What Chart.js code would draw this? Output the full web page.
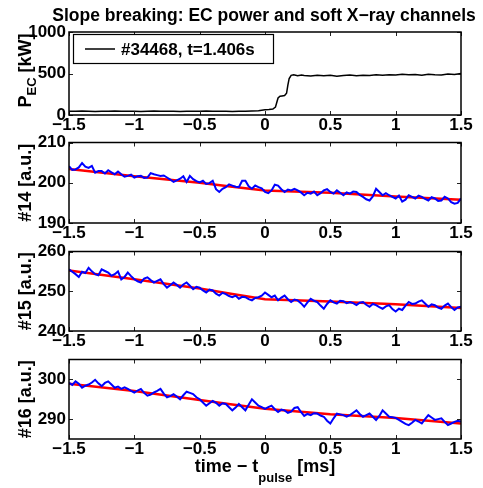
<!DOCTYPE html>
<html><head><meta charset="utf-8">
<script src="https://cdn.jsdelivr.net/npm/chart.js@4.4.1/dist/chart.umd.min.js"></script>
<style>
html,body{margin:0;padding:0;background:#fff;}
body{width:483px;height:488px;position:relative;overflow:hidden;}
canvas{position:absolute;left:0;}
</style></head><body>
<canvas id="c1"></canvas><canvas id="c2"></canvas><canvas id="c3"></canvas><canvas id="c4"></canvas>
<script>
// ---------------- DATA ----------------
const chartTitle = 'Slope breaking: EC power and soft X\u2212ray channels';
const legendLabel = '#34468, t=1.406s';
const xTickVals = [-1.5, -1, -0.5, 0, 0.5, 1, 1.5];

const yTicksEC = [0, 500, 1000];
const yTicks14 = [190, 200, 210];
const yTicks15 = [240, 250, 260];
const yTicks16 = [290, 300];

const tEC = [-1.5,-1.45,-1.4,-1.35,-1.3,-1.25,-1.2,-1.15,-1.1,-1.05,-1.0,-0.95,-0.9,-0.85,-0.8,-0.75,-0.7,-0.65,-0.6,-0.55,-0.5,-0.45,-0.4,-0.35,-0.3,-0.25,-0.2,-0.15,-0.1,-0.05,
  0,0.03,0.06,0.08,0.09,0.1,0.115,0.13,0.15,0.165,0.175,0.185,0.2,0.22,0.25,0.28,0.3,0.35,0.4,0.45,0.5,0.55,0.6,0.65,0.7,0.75,0.8,0.85,0.9,0.95,1.0,1.05,1.1,1.15,1.2,1.25,1.3,1.35,1.4,1.45,1.5];
const pEC = [46,44,47,45,43,46,44,47,45,44,46,43,45,47,44,46,45,43,46,44,45,47,44,46,45,43,46,44,47,50,
  62,66,72,95,150,205,226,230,235,262,360,440,478,486,474,482,476,470,480,472,478,468,476,482,474,480,476,484,478,486,482,490,484,488,480,492,486,482,494,488,500];

const tFit = [-1.5, -1, -0.5, -0.25, 0, 0.5, 1, 1.5];
const fit14 = [203.4, 201.6, 200.0, 199.0, 198.1, 197.5, 196.6, 195.8];
const fit15 = [255.2, 253.0, 250.7, 249.3, 248.0, 247.4, 246.7, 245.8];
const fit16 = [298.9, 297.1, 294.8, 293.7, 292.6, 291.2, 290.3, 288.9];

const sxr14 = [204.1,203.2,203.3,203.8,204.9,204.0,203.7,204.2,202.5,202.9,202.9,202.3,203.1,202.6,202.1,202.8,202.1,201.5,201.7,202.0,
  201.3,201.6,201.7,201.2,201.3,202.4,202.1,201.9,201.7,201.8,201.3,200.8,200.2,200.6,201.0,201.6,200.2,201.7,200.9,200.4,
  200.1,200.5,199.7,199.9,200.5,198.4,197.7,198.5,198.9,199.6,199.3,199.0,198.9,200.5,200.5,199.1,198.5,199.3,198.9,198.6,
  197.7,197.4,198.1,199.5,199.3,198.4,197.7,198.3,198.1,198.5,198.1,197.6,196.9,197.5,197.3,197.8,196.9,197.4,198.1,198.4,
  197.7,197.3,198.1,197.5,196.9,197.6,197.3,197.8,197.7,197.0,196.5,195.9,195.6,196.6,198.5,197.7,196.9,197.4,196.9,196.5,
  196.1,196.8,195.3,195.8,196.9,196.5,196.1,196.8,196.5,196.0,195.6,196.4,196.1,195.5,195.6,196.5,196.1,195.2,194.8,195.0,196.1];
const sxr15 = [255.5,254.9,254.3,253.6,254.9,254.6,255.9,255.0,254.3,254.0,255.5,255.1,254.7,253.9,254.3,255.0,253.0,253.6,254.7,253.8,
  253.0,252.5,252.2,253.2,253.5,252.8,252.2,252.6,253.0,251.8,250.9,251.5,252.2,251.6,250.9,251.7,252.2,251.4,250.5,251.1,
  250.9,250.2,249.7,250.4,250.2,249.4,248.9,249.6,249.3,248.8,248.5,248.9,248.1,248.6,248.5,248.0,247.7,248.3,248.5,248.9,
  249.7,249.1,248.5,248.9,247.7,248.4,248.9,248.0,247.3,247.9,247.7,247.0,246.1,247.2,248.1,247.6,247.3,246.4,245.6,246.8,
  247.7,247.2,246.9,247.6,247.5,247.0,247.3,247.0,246.5,247.1,247.3,246.6,246.1,246.8,246.5,246.0,245.6,246.2,246.5,245.5,
  244.9,245.6,245.3,246.4,247.3,246.8,246.9,247.4,247.7,246.9,246.1,246.7,246.5,245.9,245.6,246.4,246.9,246.0,245.3,245.9,246.1];
const sxr16 = [299.1,298.6,299.5,298.9,297.9,298.4,298.7,299.2,299.9,299.0,298.3,299.1,299.5,298.7,297.9,298.2,297.6,298.0,297.6,297.1,
  296.7,297.2,297.6,296.6,295.9,296.2,296.7,297.1,297.6,296.4,295.5,295.8,296.3,295.7,295.0,296.0,296.9,296.6,296.3,295.5,
  295.0,294.2,293.4,294.0,294.6,294.1,293.4,294.0,293.8,293.0,292.2,292.9,293.8,293.0,292.2,293.6,295.0,294.2,293.4,293.0,
  292.6,293.0,293.4,292.5,291.8,292.4,292.2,291.6,291.9,292.8,293.0,291.8,290.8,291.3,291.0,291.5,291.4,290.9,290.6,289.6,
  288.9,290.2,291.4,291.2,291.0,290.6,291.0,291.6,292.2,291.3,290.6,291.0,291.4,290.6,289.8,290.8,292.2,291.4,290.6,290.5,
  290.3,289.8,289.3,288.8,288.5,289.1,289.8,289.4,288.9,290.0,291.0,290.4,289.8,290.0,290.2,289.3,288.5,288.9,289.3,289.6,289.4];
// sample times of the SXR traces (every 0.025 ms)
const tSXR = [];
for (let i = 0; i < sxr14.length; i++) tSXR.push(Math.round((-1.5 + i * 0.025) * 1000) / 1000);

// ---------------- RENDERING ----------------
const FONT = '"Liberation Sans", Arial, Helvetica, sans-serif';
const FS = 17;
const pts = (xs, ys) => xs.map((x, i) => ({x: x, y: ys[i]}));
const fmt = v => (v < 0 ? '\u2212' + Math.abs(v) : String(v));

const framePlugin = {
  id: 'frame',
  afterDatasetsDraw(chart, args, opts) {
    const {ctx, chartArea: a, scales: {x, y}} = chart;
    ctx.save();
    ctx.strokeStyle = '#222'; ctx.lineWidth = 1;
    ctx.beginPath();
    const L = 4;
    for (const v of xTickVals) {
      const px = Math.round(x.getPixelForValue(v)) + 0.5;
      ctx.moveTo(px, a.bottom); ctx.lineTo(px, a.bottom - L);
      ctx.moveTo(px, a.top); ctx.lineTo(px, a.top + L);
    }
    for (const t of y.ticks) {
      const py = Math.round(y.getPixelForValue(t.value)) + 0.5;
      ctx.moveTo(a.left, py); ctx.lineTo(a.left + L, py);
      ctx.moveTo(a.right, py); ctx.lineTo(a.right - L, py);
    }
    ctx.stroke();
    ctx.strokeStyle = '#000'; ctx.lineWidth = 1.5;
    ctx.strokeRect(a.left, a.top, a.right - a.left, a.bottom - a.top);
    ctx.restore();
  },
  afterDraw(chart, args, opts) {
    const {ctx, chartArea: a} = chart;
    ctx.save();
    ctx.fillStyle = '#000';
    // y title (rotated), with optional subscript
    const parts = opts.ytitle || [];
    const cy = (a.top + a.bottom) / 2 + (opts.ytitleShift || 0);
    ctx.translate(31, cy);
    ctx.rotate(-Math.PI / 2);
    let total = 0;
    for (const p of parts) { ctx.font = 'bold ' + p.size + 'px ' + FONT; total += ctx.measureText(p.text).width; }
    let xx = -total / 2;
    ctx.textBaseline = 'alphabetic'; ctx.textAlign = 'left';
    for (const p of parts) {
      ctx.font = 'bold ' + p.size + 'px ' + FONT;
      ctx.fillText(p.text, xx, p.dy || 0);
      xx += ctx.measureText(p.text).width;
    }
    ctx.restore();
    if (opts.extra) opts.extra(chart);
  }
};

const PANELS = [
  {id: 'c1', top: 32, bottom: 115, padTop: 32, xh: 26},
  {id: 'c2', top: 141, bottom: 223, padTop: 10, xh: 26},
  {id: 'c3', top: 250, bottom: 331, padTop: 10, xh: 26},
  {id: 'c4', top: 358, bottom: 439, padTop: 10, xh: 49}
];

function makeChart(k, datasets, ymin, ymax, yTicks, frameOpts) {
  const P = PANELS[k];
  const cv = document.getElementById(P.id);
  const h = P.padTop + (P.bottom - P.top) + P.xh;
  cv.width = 483; cv.height = h;
  cv.style.width = '483px'; cv.style.height = h + 'px';
  cv.style.top = (P.top - P.padTop) + 'px';
  const tickFont = {family: FONT, size: FS, weight: 'bold', lineHeight: 1};
  return new Chart(cv, {
    type: 'line',
    data: {datasets: datasets},
    options: {
      responsive: false, animation: false, devicePixelRatio: 1, events: [],
      layout: {padding: {top: P.padTop, right: 22, left: 0, bottom: 0}},
      plugins: {legend: {display: false}, tooltip: {enabled: false}, title: {display: false}, frame: frameOpts},
      elements: {point: {radius: 0}, line: {tension: 0}},
      scales: {
        x: {
          type: 'linear', min: -1.5, max: 1.5,
          afterBuildTicks: s => { s.ticks = xTickVals.map(v => ({value: v})); },
          afterFit: s => { s.height = P.xh; },
          grid: {display: false, drawTicks: false}, border: {display: false},
          ticks: {padding: 2, color: '#000', font: tickFont, maxRotation: 0, autoSkip: false, callback: v => fmt(v)}
        },
        y: {
          type: 'linear', min: ymin, max: ymax,
          afterBuildTicks: s => { s.ticks = yTicks.map(v => ({value: v})); },
          afterFit: s => { s.width = 69; },
          grid: {display: false, drawTicks: false}, border: {display: false},
          ticks: {padding: 3, color: '#000', font: tickFont, autoSkip: false, callback: v => fmt(v)}
        }
      }
    },
    plugins: [framePlugin]
  });
}

const blueDs = d => ({data: d, borderColor: '#0000ff', borderWidth: 2, fill: false});
const redDs = d => ({data: d, borderColor: '#ff0000', borderWidth: 2.5, fill: false});

// Panel 1: EC power
makeChart(0, [{data: pts(tEC, pEC), borderColor: '#000', borderWidth: 1.5, fill: false}], 0, 1000, yTicksEC, {
  ytitle: [{text: 'P', size: 18}, {text: 'EC', size: 13, dy: 5}, {text: ' [kW]', size: 18}],
  ytitleShift: -3,
  extra: chart => {
    const ctx = chart.ctx;
    ctx.save();
    // chart title
    ctx.fillStyle = '#000';
    ctx.font = 'bold 17.5px ' + FONT;
    ctx.textAlign = 'center'; ctx.textBaseline = 'alphabetic';
    ctx.fillText(chartTitle, 264, 21);
    // legend box
    ctx.fillStyle = '#fff'; ctx.fillRect(73.5, 34.5, 200, 29);
    ctx.strokeStyle = '#000'; ctx.lineWidth = 1.2; ctx.strokeRect(73.5, 34.5, 200, 29);
    ctx.beginPath(); ctx.lineWidth = 1.5; ctx.moveTo(85, 49); ctx.lineTo(115, 49); ctx.stroke();
    ctx.fillStyle = '#000'; ctx.font = 'bold 17px ' + FONT; ctx.textAlign = 'left';
    ctx.fillText(legendLabel, 121, 55);
    ctx.restore();
  }
});

makeChart(1, [blueDs(pts(tSXR, sxr14)), redDs(pts(tFit, fit14))], 190, 210, yTicks14, {
  ytitle: [{text: '#14 [a.u.]', size: 18}]
});
makeChart(2, [blueDs(pts(tSXR, sxr15)), redDs(pts(tFit, fit15))], 240, 260, yTicks15, {
  ytitle: [{text: '#15 [a.u.]', size: 18}]
});
makeChart(3, [blueDs(pts(tSXR, sxr16)), redDs(pts(tFit, fit16))], 285, 305, yTicks16, {
  ytitle: [{text: '#16 [a.u.]', size: 18}],
  extra: chart => {
    const ctx = chart.ctx;
    const a = chart.chartArea;
    ctx.save();
    ctx.fillStyle = '#000'; ctx.textBaseline = 'alphabetic'; ctx.textAlign = 'left';
    const parts = [{text: 'time \u2212 t', size: 18, dy: 0}, {text: 'pulse', size: 13, dy: 10}, {text: ' [ms]', size: 18, dy: 0}];
    let total = 0;
    for (const p of parts) { ctx.font = 'bold ' + p.size + 'px ' + FONT; total += ctx.measureText(p.text).width; }
    let xx = (a.left + a.right) / 2 - total / 2;
    const base = 472 - 348;
    for (const p of parts) {
      ctx.font = 'bold ' + p.size + 'px ' + FONT;
      ctx.fillText(p.text, xx, base + p.dy);
      xx += ctx.measureText(p.text).width;
    }
    ctx.restore();
  }
});
</script>
</body></html>
